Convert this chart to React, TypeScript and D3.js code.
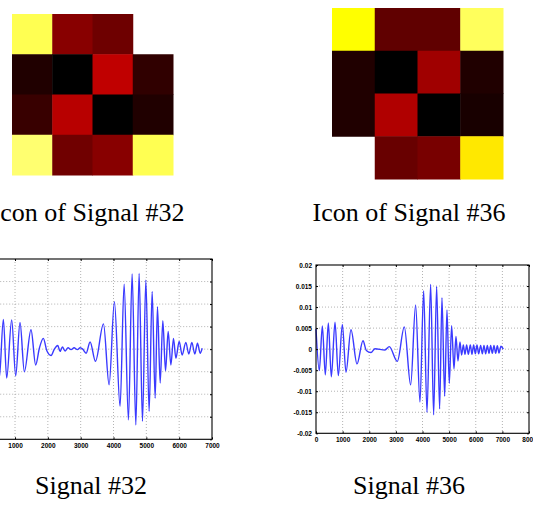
import React, { useEffect, useRef } from 'react';
import * as d3 from 'd3';

// icon cells, values on the "hot" colormap (0 = black, 1 = white), null = empty cell
const icon32: (number | null)[][] = [
  [0.83, 0.2, 0.162, null],
  [0.047, 0, 0.282, 0.07],
  [0.082, 0.27, 0, 0.047],
  [0.86, 0.165, 0.2, 0.83],
];
const icon36: (number | null)[][] = [
  [0.75, 0.141, 0.141, 0.84],
  [0.047, 0, 0.235, 0.047],
  [0.047, 0.259, 0, 0.035],
  [null, 0.153, 0.176, 0.716],
];

// signal turning points: [sample, amplitude]
const signal32: [number, number][] = [
  [0, -0.003], [15, -0.006], [140, 0.0066], [265, -0.0066], [392, 0.0066], [520, -0.0064],
  [645, 0.0066], [746, -0.0064], [898, 0.0065], [1020, -0.0059], [1152, 0.0059],
  [1284, -0.005], [1487, 0.0043], [1629, -0.0035], [1741, 0.0002], [1863, 0.0024],
  [1966, -0.0003], [2098, -0.0014], [2198, 0], [2302, 0.0008], [2372, -0.0005],
  [2443, 0.0005], [2524, -0.0004], [2616, 0.0003], [2707, -0.0001], [2799, 0.0003],
  [2900, -0.0001], [2982, 0.0003], [3063, 0], [3165, -0.0009], [3287, 0.0016],
  [3450, -0.0027], [3694, 0.0056], [3866, -0.0079], [4027, 0.0105], [4200, -0.0127],
  [4323, 0.0144], [4454, -0.0157], [4567, 0.0167], [4680, -0.0168], [4780, 0.0168],
  [4882, -0.016], [4985, 0.0153], [5085, -0.0138], [5177, 0.0128], [5268, -0.0109],
  [5339, 0.0094], [5421, -0.0075], [5502, 0.0063], [5584, -0.0048], [5665, 0.0039],
  [5747, -0.0035], [5827, 0.0024], [5899, -0.002], [6000, 0.0017], [6091, -0.0013],
  [6203, 0.0015], [6294, -0.0011], [6386, 0.0015], [6477, -0.0011], [6558, 0.0013],
  [6640, -0.0009], [6701, 0.0002],
];
const signal36: [number, number][] = [
  [0, 0.0048], [125, -0.0051], [238, 0.0055], [350, -0.0061], [463, 0.0062], [576, -0.0066],
  [714, 0.0064], [839, -0.0063], [989, 0.0059], [1126, -0.0055], [1314, 0.0046],
  [1540, -0.0035], [1765, 0.002], [1890, -0.0003], [2065, -0.0008], [2215, 0.0001],
  [2590, -0.0002], [2753, 0.0006], [3054, -0.0029], [3317, 0.0053], [3555, -0.0085],
  [3742, 0.0105], [3905, -0.0126], [4043, 0.0139], [4168, -0.015], [4306, 0.0154],
  [4418, -0.0156], [4531, 0.0149], [4643, -0.0142], [4731, 0.0122], [4832, -0.0112],
  [4919, 0.0093], [5006, -0.0081], [5094, 0.0056], [5182, -0.0047], [5257, 0.003],
  [5332, -0.0028], [5407, 0.0017], [5470, -0.0014], [5533, 0.001], [5595, -0.0012],
  [5658, 0.001], [5721, -0.0012], [5796, 0.001], [5858, -0.0012], [5921, 0.001],
  [5984, -0.0011], [6046, 0.001], [6109, -0.0011], [6184, 0.0009], [6247, -0.0011],
  [6309, 0.0009], [6372, -0.0011], [6435, 0.0009], [6497, -0.001], [6560, 0.0009],
  [6622, -0.001], [6685, 0.0009], [6748, -0.001], [6810, 0.0008], [6872, -0.0009],
  [6947, 0.0007], [7034, 0],
];

const xTicks32 = [0, 1000, 2000, 3000, 4000, 5000, 6000, 7000];
const xTicks36 = [0, 1000, 2000, 3000, 4000, 5000, 6000, 7000, 8000];
const yTicks = [-0.02, -0.015, -0.01, -0.005, 0, 0.005, 0.01, 0.015, 0.02];
const yTickLabels = ['-0.02', '-0.015', '-0.01', '-0.005', '0', '0.005', '0.01', '0.015', '0.02'];

const hot = d3
  .scaleLinear<string>()
  .domain([0, 0.375, 0.75, 1])
  .range(['#000000', '#ff0000', '#ffff00', '#ffffff']);

interface IconProps {
  cells: (number | null)[][];
  x: number;
  y: number;
  size: number;
}

const Icon: React.FC<IconProps> = ({ cells, x, y, size }) => {
  const idx = d3.range(4).map(String);
  const col = d3.scaleBand().domain(idx).range([x, x + size]);
  const row = d3.scaleBand().domain(idx).range([y, y + size]);
  return (
    <g>
      {cells.map((r, i) =>
        r.map((v, j) =>
          v === null ? null : (
            <rect
              key={`${i}-${j}`}
              x={col(String(j))}
              y={row(String(i))}
              width={col.bandwidth() + 0.5}
              height={row.bandwidth() + 0.5}
              fill={hot(v)}
            />
          )
        )
      )}
    </g>
  );
};

interface SignalProps {
  data: [number, number][];
  xTicks: number[];
  left: number;
  right: number;
  top: number;
  bottom: number;
}

const SignalPlot: React.FC<SignalProps> = ({ data, xTicks, left, right, top, bottom }) => {
  const gRef = useRef<SVGGElement | null>(null);

  useEffect(() => {
    const g = d3.select(gRef.current);
    g.selectAll('*').remove();

    const xScale = d3.scaleLinear().domain([0, xTicks[xTicks.length - 1]]).range([left, right]);
    const yScale = d3.scaleLinear().domain([-0.02, 0.02]).range([bottom, top]);
    // labels of the left plot that fall outside the page are not drawn (page is cropped there)
    const showYLabels = left > 20;

    // dotted grid
    g.selectAll('line.vgrid')
      .data(xTicks.slice(1, -1))
      .enter()
      .append('line')
      .attr('x1', (d) => xScale(d))
      .attr('x2', (d) => xScale(d))
      .attr('y1', top)
      .attr('y2', bottom)
      .attr('stroke', '#a0a0a0')
      .attr('stroke-width', 0.8)
      .attr('stroke-dasharray', '1,2');
    g.selectAll('line.hgrid')
      .data(yTicks.slice(1, -1))
      .enter()
      .append('line')
      .attr('x1', left)
      .attr('x2', right)
      .attr('y1', (d) => yScale(d))
      .attr('y2', (d) => yScale(d))
      .attr('stroke', '#a0a0a0')
      .attr('stroke-width', 0.8)
      .attr('stroke-dasharray', '1,2');

    // signal
    const line = d3
      .line<[number, number]>()
      .x((d) => xScale(d[0]))
      .y((d) => yScale(d[1]))
      .curve(d3.curveMonotoneX);
    g.append('path')
      .datum(data)
      .attr('d', line)
      .attr('fill', 'none')
      .attr('stroke', '#3a3aff')
      .attr('stroke-width', 1.4);

    // box with inward ticks on every side
    const axisStyle = (sel: d3.Selection<SVGGElement, unknown, null, undefined>) => {
      sel.select('.domain').remove();
      sel.selectAll('line').attr('stroke', '#000');
      sel.selectAll('text')
        .attr('fill', '#000')
        .style('font-family', '"Liberation Sans", Arial, sans-serif')
        .style('font-weight', 'bold')
        .style('font-size', '6.5px');
    };
    g.append('g')
      .attr('transform', `translate(0, ${bottom})`)
      .call(
        d3.axisBottom(xScale)
          .tickValues(xTicks.filter((d) => xScale(d) > 0))
          .tickSize(-2)
          .tickPadding(4)
          .tickFormat(d3.format('d'))
      )
      .call(axisStyle);
    g.append('g')
      .attr('transform', `translate(0, ${top})`)
      .call(d3.axisTop(xScale).tickValues(xTicks).tickSize(-2).tickFormat(() => ''))
      .call(axisStyle);
    if (showYLabels) {
      g.append('g')
        .attr('transform', `translate(${left}, 0)`)
        .call(
          d3.axisLeft(yScale)
            .tickValues(yTicks)
            .tickSize(-2)
            .tickPadding(4)
            .tickFormat((_, i) => yTickLabels[i])
        )
        .call(axisStyle);
    }
    g.append('g')
      .attr('transform', `translate(${right}, 0)`)
      .call(d3.axisRight(yScale).tickValues(yTicks).tickSize(-2).tickFormat(() => ''))
      .call(axisStyle);

    g.append('rect')
      .attr('x', left)
      .attr('y', top)
      .attr('width', right - left)
      .attr('height', bottom - top)
      .attr('fill', 'none')
      .attr('stroke', '#000')
      .attr('stroke-width', 1.1);
  }, [data, xTicks, left, right, top, bottom]);

  return <g ref={gRef} />;
};

const captionStyle: React.CSSProperties = {
  fontFamily: '"Liberation Serif", "Times New Roman", serif',
  fontSize: '26px',
};

export default function App() {
  useEffect(() => {
    document.body.style.margin = '0';
  }, []);

  return (
    <svg
      width={533}
      height={509}
      style={{ position: 'absolute', left: 0, top: 0, background: '#fff' }}
    >
      <rect width={533} height={509} fill="#fff" />
      <Icon cells={icon32} x={12} y={14} size={161} />
      <Icon cells={icon36} x={332} y={8} size={171} />

      <text x={88} y={221} textAnchor="middle" style={captionStyle}>Icon of Signal #32</text>
      <text x={409} y={221} textAnchor="middle" style={captionStyle}>Icon of Signal #36</text>

      <SignalPlot data={signal32} xTicks={xTicks32} left={-17.8} right={212} top={259} bottom={439.3} />
      <SignalPlot data={signal36} xTicks={xTicks36} left={316} right={529} top={265} bottom={433.3} />

      <text x={91} y={494} textAnchor="middle" style={captionStyle}>Signal #32</text>
      <text x={409} y={494} textAnchor="middle" style={captionStyle}>Signal #36</text>
    </svg>
  );
}
